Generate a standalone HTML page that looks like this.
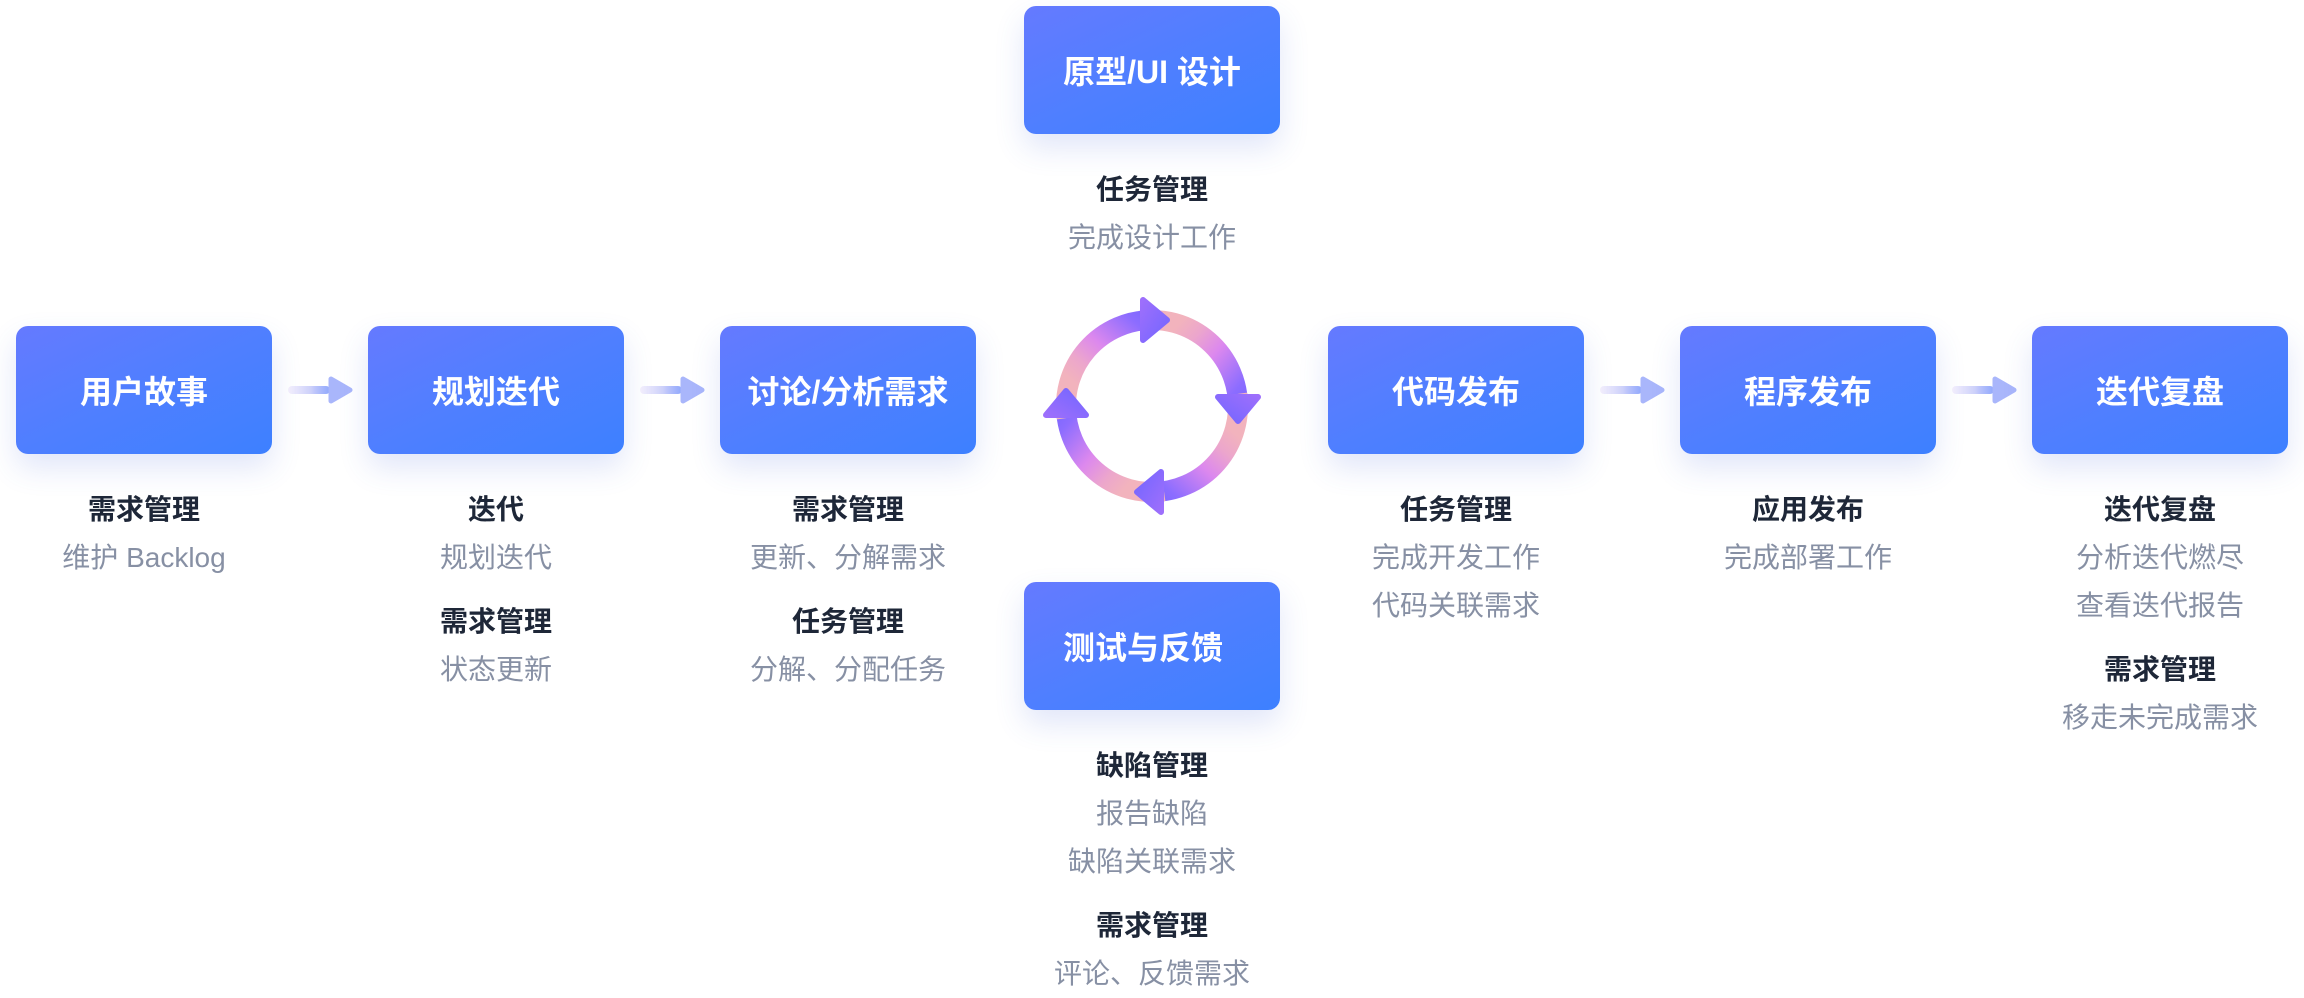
<!DOCTYPE html>
<html>
<head>
<meta charset="utf-8">
<style>
  html,body{margin:0;padding:0;background:#fff;}
  body{width:2304px;height:998px;position:relative;overflow:hidden;
    font-family:"Liberation Sans","Noto Sans CJK SC",sans-serif;}
  .box{position:absolute;width:256px;height:128px;border-radius:12px;
    background:linear-gradient(155deg,#657aff 0%,#4f7fff 50%,#3d80ff 100%);
    box-shadow:0 14px 30px rgba(70,100,220,0.16);
    color:#fff;font-size:32px;font-weight:700;
    display:flex;align-items:center;justify-content:center;
    font-family:"Liberation Sans","Noto Sans CJK SC",sans-serif;}
  .lab{position:absolute;width:360px;text-align:center;font-size:28px;line-height:48px;}
  .lab div{height:48px;}
  .b{color:#1e2738;font-weight:700;}
  .g{color:#8790a4;}
  .gap{height:16px !important;}
  svg{position:absolute;left:0;top:0;}
</style>
</head>
<body>

<svg width="2304" height="998" viewBox="0 0 2304 998">
  <defs>
    <linearGradient id="ar" gradientUnits="objectBoundingBox" x1="0" y1="0" x2="1" y2="0">
      <stop offset="0" stop-color="#f6f1fd"/>
      <stop offset="0.55" stop-color="#ccd0fa"/>
      <stop offset="0.65" stop-color="#bcc4fb"/>
      <stop offset="1" stop-color="#8fa8fc"/>
    </linearGradient>
    <linearGradient id="ah" x1="0" y1="0" x2="1" y2="1">
      <stop offset="0" stop-color="#9d6ffc"/>
      <stop offset="1" stop-color="#7466ff"/>
    </linearGradient>
    <linearGradient id="seg" gradientUnits="userSpaceOnUse" x1="-12" y1="-85.2" x2="86" y2="0">
      <stop offset="0" stop-color="#f2b3bd"/>
      <stop offset="0.24" stop-color="#f2b3bd"/>
      <stop offset="0.4" stop-color="#eca6cc"/>
      <stop offset="0.6" stop-color="#dc88ee"/>
      <stop offset="0.9" stop-color="#8d6dff"/>
      <stop offset="1" stop-color="#8068ff"/>
    </linearGradient>
  </defs>

  <!-- horizontal connector arrows -->
  <g>
    <rect x="288" y="386" width="42" height="8" rx="4" fill="url(#ar)"/>
    <polygon points="331,379 331,401 350,390" fill="#a9b6fb" stroke="#a9b6fb" stroke-width="5" stroke-linejoin="round"/>
  </g>
  <g>
    <rect x="640" y="386" width="42" height="8" rx="4" fill="url(#ar)"/>
    <polygon points="683,379 683,401 702,390" fill="#a9b6fb" stroke="#a9b6fb" stroke-width="5" stroke-linejoin="round"/>
  </g>
  <g>
    <rect x="1600" y="386" width="42" height="8" rx="4" fill="url(#ar)"/>
    <polygon points="1643,379 1643,401 1662,390" fill="#a9b6fb" stroke="#a9b6fb" stroke-width="5" stroke-linejoin="round"/>
  </g>
  <g>
    <rect x="1952" y="386" width="42" height="8" rx="4" fill="url(#ar)"/>
    <polygon points="1995,379 1995,401 2014,390" fill="#a9b6fb" stroke="#a9b6fb" stroke-width="5" stroke-linejoin="round"/>
  </g>

  <!-- cycle icon -->
  <g transform="translate(1152,406)">
    <path d="M -12 -85.2 A 86 86 0 0 1 86 0" fill="none" stroke="url(#seg)" stroke-width="20"/>
    <g transform="rotate(90)">
      <path d="M -12 -85.2 A 86 86 0 0 1 86 0" fill="none" stroke="url(#seg)" stroke-width="20"/>
    </g>
    <g transform="rotate(180)">
      <path d="M -12 -85.2 A 86 86 0 0 1 86 0" fill="none" stroke="url(#seg)" stroke-width="20"/>
    </g>
    <g transform="rotate(270)">
      <path d="M -12 -85.2 A 86 86 0 0 1 86 0" fill="none" stroke="url(#seg)" stroke-width="20"/>
    </g>
    <!-- arrowheads -->
    <polygon points="-9,-106 -9,-66 15,-86" fill="url(#ah)" stroke="url(#ah)" stroke-width="6" stroke-linejoin="round"/>
    <g transform="rotate(90)">
      <polygon points="-9,-106 -9,-66 15,-86" fill="url(#ah)" stroke="url(#ah)" stroke-width="6" stroke-linejoin="round"/>
    </g>
    <g transform="rotate(180)">
      <polygon points="-9,-106 -9,-66 15,-86" fill="url(#ah)" stroke="url(#ah)" stroke-width="6" stroke-linejoin="round"/>
    </g>
    <g transform="rotate(270)">
      <polygon points="-9,-106 -9,-66 15,-86" fill="url(#ah)" stroke="url(#ah)" stroke-width="6" stroke-linejoin="round"/>
    </g>
  </g>
</svg>

<!-- boxes -->
<div class="box" style="left:16px;top:326px;">用户故事</div>
<div class="box" style="left:368px;top:326px;">规划迭代</div>
<div class="box" style="left:720px;top:326px;">讨论/分析需求</div>
<div class="box" style="left:1024px;top:6px;">原型/UI 设计</div>
<div class="box" style="left:1024px;top:582px;padding-right:18px;box-sizing:border-box;">测试与反馈</div>
<div class="box" style="left:1328px;top:326px;">代码发布</div>
<div class="box" style="left:1680px;top:326px;">程序发布</div>
<div class="box" style="left:2032px;top:326px;">迭代复盘</div>

<!-- labels -->
<div class="lab" style="left:-36px;top:486px;">
  <div class="b">需求管理</div>
  <div class="g">维护 Backlog</div>
</div>
<div class="lab" style="left:316px;top:486px;">
  <div class="b">迭代</div>
  <div class="g">规划迭代</div>
  <div class="gap"></div>
  <div class="b">需求管理</div>
  <div class="g">状态更新</div>
</div>
<div class="lab" style="left:668px;top:486px;">
  <div class="b">需求管理</div>
  <div class="g">更新、分解需求</div>
  <div class="gap"></div>
  <div class="b">任务管理</div>
  <div class="g">分解、分配任务</div>
</div>
<div class="lab" style="left:972px;top:166px;">
  <div class="b">任务管理</div>
  <div class="g">完成设计工作</div>
</div>
<div class="lab" style="left:972px;top:742px;">
  <div class="b">缺陷管理</div>
  <div class="g">报告缺陷</div>
  <div class="g">缺陷关联需求</div>
  <div class="gap"></div>
  <div class="b">需求管理</div>
  <div class="g">评论、反馈需求</div>
</div>
<div class="lab" style="left:1276px;top:486px;">
  <div class="b">任务管理</div>
  <div class="g">完成开发工作</div>
  <div class="g">代码关联需求</div>
</div>
<div class="lab" style="left:1628px;top:486px;">
  <div class="b">应用发布</div>
  <div class="g">完成部署工作</div>
</div>
<div class="lab" style="left:1980px;top:486px;">
  <div class="b">迭代复盘</div>
  <div class="g">分析迭代燃尽</div>
  <div class="g">查看迭代报告</div>
  <div class="gap"></div>
  <div class="b">需求管理</div>
  <div class="g">移走未完成需求</div>
</div>

</body>
</html>
